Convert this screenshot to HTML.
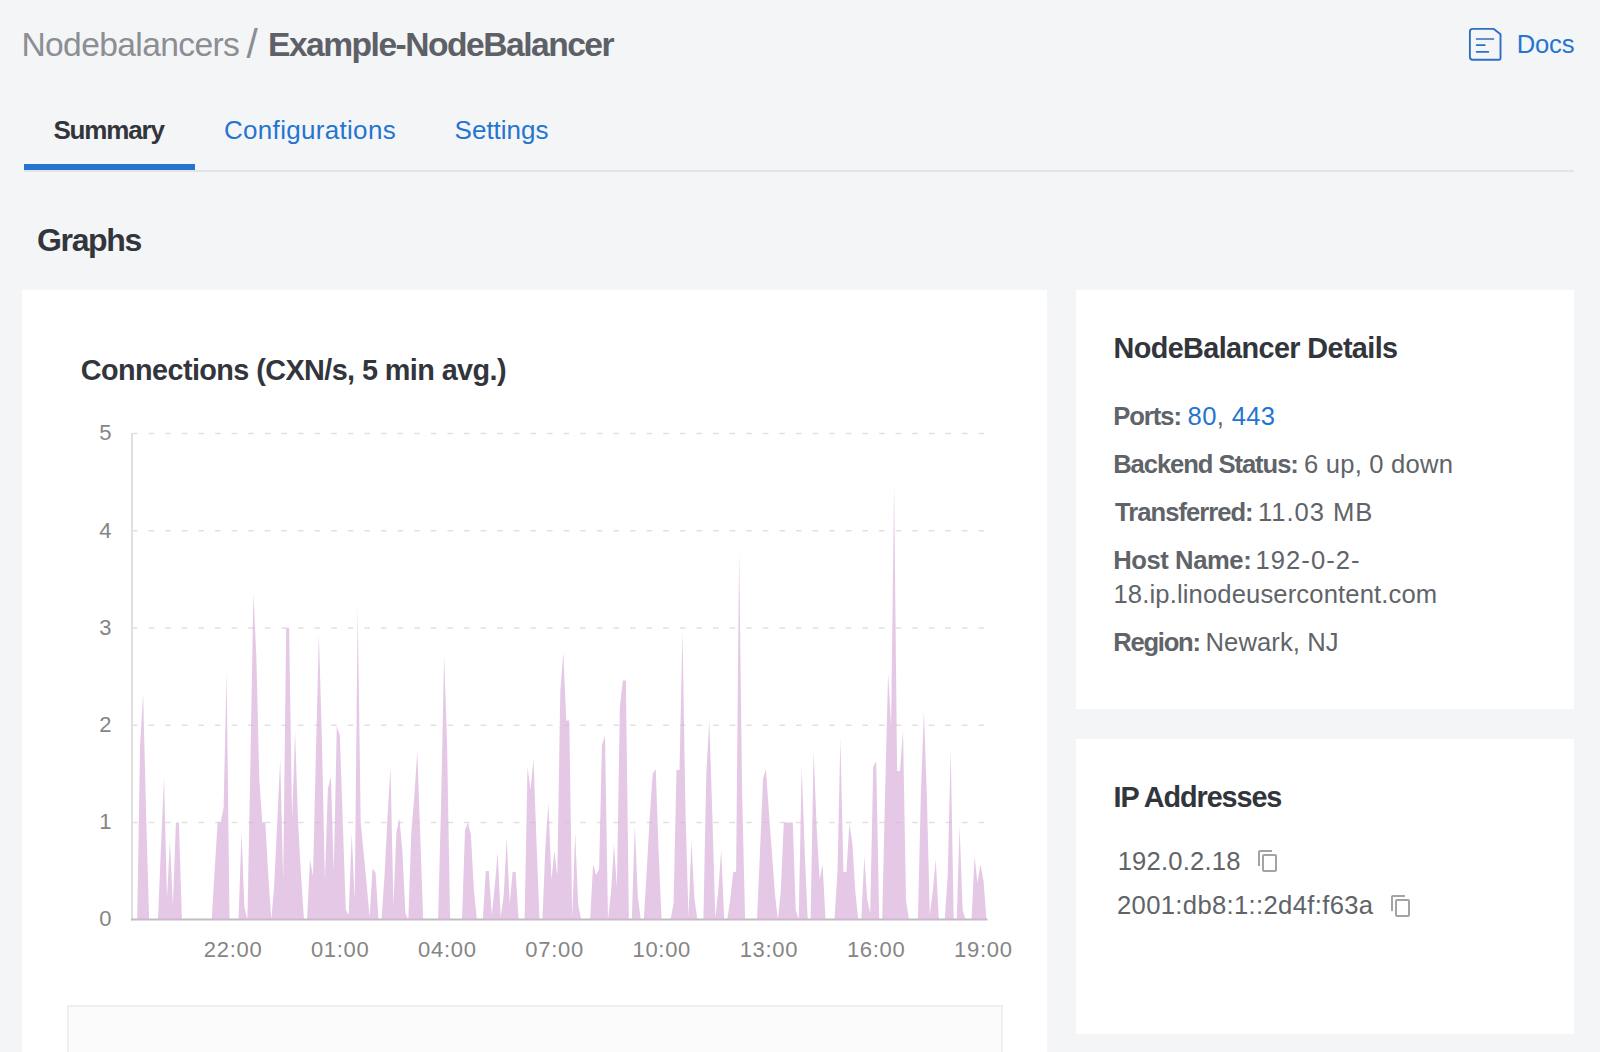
<!DOCTYPE html>
<html lang="en">
<head>
<meta charset="utf-8">
<title>Example-NodeBalancer</title>
<style>
*{box-sizing:border-box;margin:0;padding:0}
html,body{width:1600px;height:1052px;overflow:hidden}
body{background:#f4f5f6;font-family:"Liberation Sans",sans-serif;color:#606469;position:relative}
.abs{position:absolute}
.t{position:absolute;white-space:nowrap;line-height:1}
.a{font-size:22px;color:#858585}
.card{position:absolute;background:#fff}
</style>
</head>
<body>
<!-- tabs underline -->
<div class="abs" style="left:24px;top:170px;width:1550px;height:2px;background:#e2e4e6"></div>
<div class="abs" style="left:24px;top:164px;width:171px;height:6px;background:#2575d0"></div>
<!-- cards -->
<div class="card" style="left:22px;top:290px;width:1025px;height:800px"></div>
<div class="card" style="left:1076px;top:290px;width:498px;height:419px"></div>
<div class="card" style="left:1076px;top:739px;width:498px;height:295px"></div>
<div class="abs" style="left:67px;top:1005px;width:936px;height:80px;background:#fbfbfb;border:2px solid #eeeff0"></div>
<!-- docs icon -->
<svg class="abs" style="left:1460px;top:20px" width="50" height="50" viewBox="0 0 50 50" fill="none" stroke="#2e6fc4" stroke-width="1.9" stroke-linejoin="round" stroke-linecap="round">
<path d="M12.6 8.9 H33.8 L40.5 14.2 V38.6 Q40.5 39.8 39.3 39.8 H12.6 Q9.9 39.8 9.9 37.1 V11.6 Q9.9 8.9 12.6 8.9 Z"/>
<path d="M16.6 19H33.4M16.6 25.2H24.8M16.6 31.8H28.4" stroke-width="1.7"/>
</svg>
<!-- chart -->
<svg class="abs" style="left:0;top:0" width="1100" height="1000" viewBox="0 0 1100 1000">
<g stroke="#e1e1e1" stroke-width="1.4" stroke-dasharray="5.6,11" fill="none"><line x1="132" x2="988" y1="433.5" y2="433.5"/><line x1="132" x2="988" y1="530.7" y2="530.7"/><line x1="132" x2="988" y1="628.0" y2="628.0"/><line x1="132" x2="988" y1="725.2" y2="725.2"/><line x1="132" x2="988" y1="822.5" y2="822.5"/></g>
<line x1="132" x2="132" y1="433" y2="920.5" stroke="#dfdfdf" stroke-width="2"/>
<line x1="131" x2="987.5" y1="919.6" y2="919.6" stroke="#bfbfbf" stroke-width="2"/>
<polygon fill="rgba(218,176,218,0.7)" points="131.2,919.7 131.2,919.7 134.2,919.7 137.2,919.7 140.1,744.7 143.1,694.1 146.1,812.7 149.1,919.7 152.1,919.7 155.0,919.7 158.0,919.7 161.0,845.8 164.0,777.7 167.0,898.3 169.9,840.0 172.9,905.1 175.9,822.5 178.9,822.5 181.9,919.7 184.8,919.7 187.8,919.7 190.8,919.7 193.8,919.7 196.8,919.7 199.7,919.7 202.7,919.7 205.7,919.7 208.7,919.7 211.7,919.7 214.6,871.1 217.6,822.5 220.6,822.5 223.6,807.9 226.6,671.7 229.5,919.7 232.5,919.7 235.5,919.7 238.5,919.7 241.5,832.2 244.4,907.1 247.4,919.7 250.4,764.1 253.4,593.0 256.4,658.1 259.3,779.7 262.3,822.5 265.3,822.5 268.3,875.9 271.3,919.7 274.2,885.7 277.2,822.5 280.2,759.3 283.2,879.8 286.2,628.0 289.1,628.0 292.1,818.6 295.1,732.0 298.1,822.5 301.1,875.9 304.0,919.7 307.0,919.7 310.0,859.4 313.0,875.9 316.0,749.5 318.9,634.8 321.9,739.8 324.9,879.8 327.9,788.4 330.9,776.8 333.8,871.1 336.8,726.2 339.8,734.9 342.8,822.5 345.8,910.0 348.7,914.8 351.7,833.2 354.7,900.3 357.7,607.6 360.7,822.5 363.6,852.6 366.6,883.7 369.6,916.8 372.6,868.2 375.6,873.0 378.5,919.7 381.5,919.7 384.5,875.9 387.5,817.6 390.5,767.0 393.4,905.1 396.4,832.2 399.4,818.6 402.4,851.6 405.4,912.9 408.3,919.7 411.3,832.2 414.3,796.2 417.3,751.5 420.3,837.0 423.2,919.7 426.2,919.7 429.2,919.7 432.2,919.7 435.2,919.7 438.1,919.7 441.1,803.0 444.1,655.2 447.1,745.6 450.1,919.7 453.0,919.7 456.0,919.7 459.0,919.7 462.0,919.7 465.0,830.2 467.9,822.5 470.9,835.1 473.9,890.5 476.9,919.7 479.9,919.7 482.8,919.7 485.8,871.1 488.8,871.1 491.8,914.8 494.8,885.7 497.7,852.6 500.7,916.8 503.7,895.4 506.7,838.0 509.7,903.2 512.6,872.1 515.6,872.1 518.6,919.7 521.6,919.7 524.6,919.7 527.5,767.0 530.5,789.4 533.5,759.3 536.5,841.9 539.5,919.7 542.4,919.7 545.4,846.8 548.4,803.0 551.4,879.8 554.4,850.7 557.3,875.9 560.3,691.2 563.3,652.3 566.3,720.4 569.3,720.4 572.2,916.8 575.2,833.2 578.2,905.1 581.2,919.7 584.2,919.7 587.1,919.7 590.1,919.7 593.1,864.3 596.1,875.0 599.1,869.1 602.0,744.7 605.0,735.9 608.0,919.7 611.0,892.5 614.0,843.9 616.9,887.6 619.9,705.8 622.9,680.5 625.9,680.5 628.9,919.7 631.8,919.7 634.8,825.4 637.8,896.4 640.8,919.7 643.8,919.7 646.7,871.1 649.7,817.6 652.7,773.8 655.7,769.0 658.7,853.6 661.6,919.7 664.6,919.7 667.6,919.7 670.6,919.7 673.6,903.2 676.5,770.0 679.5,770.0 682.5,630.9 685.5,812.7 688.5,916.8 691.4,840.9 694.4,898.3 697.4,919.7 700.4,919.7 703.4,919.7 706.3,773.8 709.3,720.4 712.3,813.7 715.3,917.8 718.3,890.5 721.2,849.7 724.2,919.7 727.2,919.7 730.2,900.3 733.2,872.1 736.1,872.1 739.1,550.2 742.1,791.3 745.1,919.7 748.1,919.7 751.0,919.7 754.0,919.7 757.0,919.7 760.0,851.6 763.0,778.7 765.9,769.0 768.9,811.8 771.9,852.6 774.9,893.4 777.9,919.7 780.8,890.5 783.8,822.5 786.8,822.5 789.8,822.5 792.8,822.5 795.7,910.0 798.7,919.7 801.7,767.0 804.7,851.6 807.7,919.7 810.6,919.7 813.6,751.5 816.6,825.4 819.6,879.8 822.6,864.3 825.5,919.7 828.5,919.7 831.5,919.7 834.5,919.7 837.5,871.1 840.4,737.9 843.4,872.1 846.4,872.1 849.4,823.4 852.4,843.9 855.3,891.5 858.3,919.7 861.3,919.7 864.3,856.5 867.3,900.3 870.2,912.9 873.2,767.0 876.2,761.2 879.2,919.7 882.2,919.7 885.1,793.3 888.1,672.7 891.1,725.2 894.1,485.0 897.1,770.9 900.0,770.9 903.0,730.1 906.0,900.3 909.0,919.7 912.0,919.7 914.9,919.7 917.9,919.7 920.9,793.3 923.9,711.6 926.9,797.2 929.8,914.8 932.8,890.5 935.8,859.4 938.8,919.7 941.8,919.7 944.7,919.7 947.7,875.9 950.7,749.5 953.7,919.7 956.7,919.7 959.6,826.3 962.6,910.0 965.6,919.7 968.6,919.7 971.6,919.7 974.5,856.5 977.5,882.7 980.5,864.3 983.5,880.8 986.5,919.7 986.5,919.7"/>
</svg>
<div class="t a" style="left:99.30px;top:422.00px">5</div>
<div class="t a" style="left:99.30px;top:520.00px">4</div>
<div class="t a" style="left:99.30px;top:617.00px">3</div>
<div class="t a" style="left:99.30px;top:714.00px">2</div>
<div class="t a" style="left:99.30px;top:811.00px">1</div>
<div class="t a" style="left:99.30px;top:908.00px">0</div>
<div class="t a" style="left:203.80px;top:939.00px;letter-spacing:0.700px">22:00</div>
<div class="t a" style="left:310.90px;top:939.00px;letter-spacing:0.700px">01:00</div>
<div class="t a" style="left:418.10px;top:939.00px;letter-spacing:0.700px">04:00</div>
<div class="t a" style="left:525.30px;top:939.00px;letter-spacing:0.700px">07:00</div>
<div class="t a" style="left:632.50px;top:939.00px;letter-spacing:0.700px">10:00</div>
<div class="t a" style="left:739.70px;top:939.00px;letter-spacing:0.700px">13:00</div>
<div class="t a" style="left:846.90px;top:939.00px;letter-spacing:0.700px">16:00</div>
<div class="t a" style="left:954.10px;top:939.00px;letter-spacing:0.700px">19:00</div>
<div class="t" style="left:21.40px;top:28px;font-size:33.6px;letter-spacing:-0.617px;color:#8b8e93">Nodebalancers</div>
<div class="t" style="left:246.60px;top:24px;font-size:40.5px;letter-spacing:0.000px;color:#8b8e93">/</div>
<div class="t" style="left:268.00px;top:28px;font-size:33.6px;letter-spacing:-1.500px;color:#5d6066;font-weight:bold">Example-NodeBalancer</div>
<div class="t" style="left:1516.80px;top:32px;font-size:25.6px;letter-spacing:-0.200px;color:#2575d0">Docs</div>
<div class="t" style="left:53.40px;top:117px;font-size:26px;letter-spacing:-1.167px;color:#32363c;font-weight:bold">Summary</div>
<div class="t" style="left:224.00px;top:117px;font-size:26px;letter-spacing:0.308px;color:#2575d0">Configurations</div>
<div class="t" style="left:454.60px;top:117px;font-size:26px;letter-spacing:0.000px;color:#2575d0">Settings</div>
<div class="t" style="left:37.10px;top:224px;font-size:32px;letter-spacing:-1.380px;color:#32363c;font-weight:bold">Graphs</div>
<div class="t" style="left:80.80px;top:356px;font-size:28.8px;letter-spacing:-0.583px;color:#32363c;font-weight:bold">Connections (CXN/s, 5 min avg.)</div>
<div class="t" style="left:1113.50px;top:334px;font-size:28.8px;letter-spacing:-0.605px;color:#32363c;font-weight:bold">NodeBalancer Details</div>
<div class="t" style="left:1113.20px;top:404px;font-size:25.6px;letter-spacing:-1.040px;color:#606469;font-weight:bold">Ports:</div>
<div class="t" style="left:1187.60px;top:404px;font-size:25.6px;letter-spacing:0.333px;color:#606469"><span style="color:#2575d0">80</span>, <span style="color:#2575d0">443</span></div>
<div class="t" style="left:1113.20px;top:452px;font-size:25.6px;letter-spacing:-1.064px;color:#606469;font-weight:bold">Backend Status:</div>
<div class="t" style="left:1304.00px;top:452px;font-size:25.6px;letter-spacing:0.209px;color:#606469">6 up, 0 down</div>
<div class="t" style="left:1115.00px;top:500px;font-size:25.6px;letter-spacing:-0.973px;color:#606469;font-weight:bold">Transferred:</div>
<div class="t" style="left:1258.00px;top:500px;font-size:25.6px;letter-spacing:0.971px;color:#606469">11.03 MB</div>
<div class="t" style="left:1113.20px;top:548px;font-size:25.6px;letter-spacing:-0.411px;color:#606469;font-weight:bold">Host Name:</div>
<div class="t" style="left:1255.50px;top:548px;font-size:25.6px;letter-spacing:1.043px;color:#606469">192-0-2-</div>
<div class="t" style="left:1113.50px;top:582px;font-size:25.6px;letter-spacing:0.135px;color:#606469">18.ip.linodeusercontent.com</div>
<div class="t" style="left:1113.20px;top:630px;font-size:25.6px;letter-spacing:-1.233px;color:#606469;font-weight:bold">Region:</div>
<div class="t" style="left:1205.50px;top:630px;font-size:25.6px;letter-spacing:0.089px;color:#606469">Newark, NJ</div>
<div class="t" style="left:1113.50px;top:783px;font-size:28.8px;letter-spacing:-1.091px;color:#32363c;font-weight:bold">IP Addresses</div>
<div class="t" style="left:1117.70px;top:849px;font-size:25.6px;letter-spacing:0.200px;color:#606469">192.0.2.18</div>
<div class="t" style="left:1117.00px;top:893px;font-size:25.6px;letter-spacing:0.350px;color:#606469">2001:db8:1::2d4f:f63a</div>
<!-- copy icons -->
<svg class="abs" style="left:1255.5px;top:849px" width="24" height="24" viewBox="0 0 24 24" fill="#a3a3a3"><path d="M16 1H4c-1.1 0-2 .9-2 2v14h2V3h12V1zm3 4H8c-1.1 0-2 .9-2 2v14c0 1.1.9 2 2 2h11c1.1 0 2-.9 2-2V7c0-1.1-.9-2-2-2zm0 16H8V7h11v14z"/></svg>
<svg class="abs" style="left:1388.5px;top:893.5px" width="24" height="24" viewBox="0 0 24 24" fill="#a3a3a3"><path d="M16 1H4c-1.1 0-2 .9-2 2v14h2V3h12V1zm3 4H8c-1.1 0-2 .9-2 2v14c0 1.1.9 2 2 2h11c1.1 0 2-.9 2-2V7c0-1.1-.9-2-2-2zm0 16H8V7h11v14z"/></svg>
</body>
</html>
